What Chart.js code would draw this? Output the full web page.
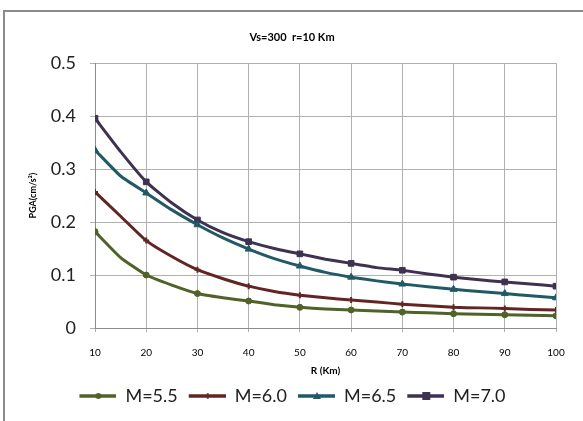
<!DOCTYPE html>
<html>
<head>
<meta charset="utf-8">
<script src="https://cdn.jsdelivr.net/npm/chart.js@4/dist/chart.umd.min.js"></script>
<style>
  html, body { margin: 0; padding: 0; background: #fff; }
  #wrap { width: 583px; height: 421px; }
</style>
</head>
<body>
<div id="wrap"><canvas id="graphique" width="583" height="421"></canvas></div>
<script>
// valeurs
const distances = [10, 15, 20, 25, 30, 35, 40, 45, 50, 55, 60, 65, 70, 75, 80, 85, 90, 95, 100];
const pgaM55 = [0.182, 0.133, 0.100, 0.081, 0.065, 0.057, 0.051, 0.044, 0.039, 0.036, 0.034, 0.032, 0.030, 0.029, 0.027, 0.026, 0.025, 0.024, 0.023];
const pgaM60 = [0.257, 0.211, 0.165, 0.135, 0.110, 0.093, 0.079, 0.069, 0.062, 0.057, 0.053, 0.049, 0.045, 0.042, 0.039, 0.038, 0.037, 0.035, 0.034];
const pgaM65 = [0.336, 0.287, 0.255, 0.223, 0.195, 0.170, 0.149, 0.131, 0.117, 0.105, 0.096, 0.089, 0.083, 0.078, 0.073, 0.069, 0.065, 0.061, 0.057];
const pgaM70 = [0.396, 0.333, 0.276, 0.236, 0.204, 0.180, 0.163, 0.150, 0.140, 0.130, 0.122, 0.114, 0.109, 0.102, 0.096, 0.091, 0.087, 0.083, 0.079];
const series = ["M=5.5", "M=6.0", "M=6.5", "M=7.0"];
const yTicks = [0, 0.1, 0.2, 0.3, 0.4, 0.5];

const couleurs = ["#4F6228", "#632523", "#215967", "#3F3151"];
const marqueurs = ["circle", "cross", "triangle", "rect"];
const tailles = [3, 3, 4, 4];
const police = "Lato, 'Liberation Sans', sans-serif";

function points(valeurs) {
    return distances.map((d, i) => ({x: d, y: valeurs[i]}));
}

// petite icone ligne + marqueur pour la legende
function iconeLegende(n) {
    let c = document.createElement("canvas");
    c.width = 38; c.height = 12;
    let g = c.getContext("2d");
    g.strokeStyle = couleurs[n];
    g.fillStyle = couleurs[n];
    g.lineWidth = 3.5;
    g.beginPath(); g.moveTo(1, 6); g.lineTo(38, 6); g.stroke();
    g.lineWidth = 1.5;
    if (n === 0) { g.beginPath(); g.arc(20, 6, 3, 0, Math.PI * 2); g.fill(); }
    if (n === 1) { g.beginPath(); g.moveTo(20, 3); g.lineTo(20, 9); g.stroke(); }
    if (n === 2) { g.beginPath(); g.moveTo(20, 2); g.lineTo(24, 9); g.lineTo(16, 9); g.closePath(); g.fill(); }
    if (n === 3) { g.fillRect(16, 2, 8, 8); }
    return c;
}

const cadre = {
    id: "cadre",
    beforeDraw(chart) {
        let ctx = chart.ctx;
        ctx.save();
        ctx.strokeStyle = "#8C8C8C";
        ctx.lineWidth = 2;
        ctx.strokeRect(4, 11, 600, 420);
        ctx.restore();
    }
};

const valeursSeries = [pgaM55, pgaM60, pgaM65, pgaM70];

const donnees = {
    type: "line",
    data: {
        datasets: series.map((nom, n) => ({
            label: nom,
            data: points(valeursSeries[n]),
            borderColor: couleurs[n],
            backgroundColor: couleurs[n],
            borderWidth: 3,
            tension: 0.15,
            pointStyle: marqueurs[n],
            pointRadius: ctx => (ctx.raw && ctx.raw.x % 10 === 0) ? tailles[n] : 0,
            pointBorderWidth: n === 1 ? 2 : 1,
            pointHoverRadius: 0
        }))
    },
    options: {
        responsive: false,
        animation: false,
        layout: { padding: { left: 28, right: 27, top: 0, bottom: 6 } },
        plugins: {
            title: {
                display: true,
                text: "Vs=300  r=10 Km",
                color: "#000",
                font: { family: police, size: 11, weight: "bold" },
                padding: { top: 31, bottom: 19 }
            },
            legend: {
                position: "bottom",
                labels: {
                    color: "#222",
                    font: { family: police, size: 18 },
                    usePointStyle: true,
                    pointStyleWidth: 38,
                    padding: 10,
                    generateLabels: chart => chart.data.datasets.map((ds, n) => ({
                        text: ds.label,
                        pointStyle: iconeLegende(n),
                        fillStyle: ds.borderColor,
                        strokeStyle: ds.borderColor,
                        fontColor: "#222",
                        lineWidth: 0,
                        datasetIndex: n
                    }))
                }
            },
            tooltip: { enabled: false }
        },
        scales: {
            x: {
                type: "linear",
                min: 10,
                max: 100,
                afterBuildTicks: s => { s.ticks = distances.filter(d => d % 10 === 0).map(v => ({value: v})); },
                afterFit: s => { s.height = 49; },
                grid: { color: "#B0B0B0", lineWidth: 1, tickLength: 4 },
                border: { color: "#8C8C8C", width: 1 },
                ticks: { color: "#000", font: { family: police, size: 10 }, padding: 15, maxRotation: 0 },
                title: { display: true, text: "R (Km)", color: "#000", font: { family: police, size: 10, weight: "bold" }, padding: { top: 4, bottom: 0 } }
            },
            y: {
                min: 0,
                max: 0.5,
                afterBuildTicks: s => { s.ticks = yTicks.map(v => ({value: v})); },
                afterFit: s => { s.width = 67; },
                grid: { color: "#B0B0B0", lineWidth: 1, tickLength: 5 },
                border: { color: "#8C8C8C", width: 1 },
                ticks: { color: "#222", font: { family: police, size: 18 }, padding: 14 },
                title: { display: true, text: "PGA(cm/s²)", color: "#000", font: { family: police, size: 9, weight: "bold" }, padding: 0 }
            }
        }
    },
    plugins: [cadre]
};

window.graphique = new Chart(document.getElementById("graphique"), donnees);
</script>
</body>
</html>
